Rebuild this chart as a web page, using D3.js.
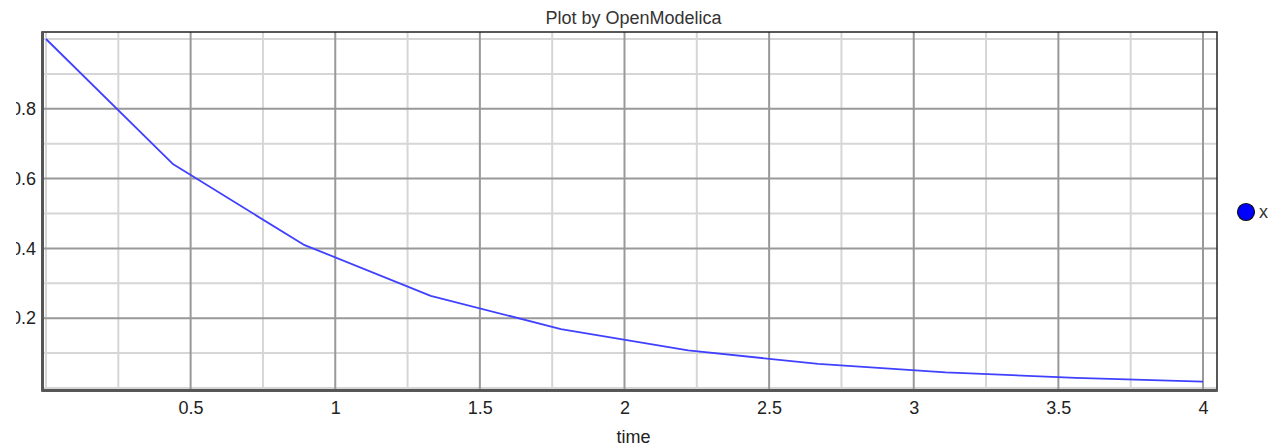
<!DOCTYPE html>
<html>
<head>
<meta charset="utf-8">
<script src="https://cdn.jsdelivr.net/npm/d3@7"></script>
<style>
  body { margin: 0; background: #fff; }
  svg { display: block; font-family: "Liberation Sans", Arial, sans-serif; }
</style>
</head>
<body>
<div id="chart"></div>
<script>
// datos
const timeValues = [0, 0.44, 0.89, 1.33, 1.78, 2.22, 2.67, 3.11, 3.56, 4.0];
const xValues = [1.0, 0.641, 0.411, 0.264, 0.169, 0.108, 0.069, 0.045, 0.029, 0.018];
const xTickLabels = [0.5, 1, 1.5, 2, 2.5, 3, 3.5, 4];
const yTickLabels = [0.2, 0.4, 0.6, 0.8];
const xGrid = d3.range(0, 4.001, 0.25);
const yGrid = d3.range(0, 1.001, 0.1);
const seriesName = 'x';
const titleText = 'Plot by OpenModelica';
const xAxisTitle = 'time';

const W = 1277, H = 448;
const frame = {left: 42, top: 32, right: 1217, bottom: 391};
const fontSize = 18;

const svg = d3.select('#chart').append('svg')
  .attr('width', W).attr('height', H);

const x = d3.scaleLinear().domain([0, 4]).range([46, 1203]);
const y = d3.scaleLinear().domain([0, 1]).range([388, 39]);

// --- rejilla ---
const isMajorX = v => Math.abs(v / 0.5 - Math.round(v / 0.5)) < 1e-6;
const isMajorY = v => Math.abs(v / 0.2 - Math.round(v / 0.2)) < 1e-6;

svg.append('g').selectAll('line')
  .data(xGrid.filter(v => !isMajorX(v) || v === 0))
  .enter().append('line')
  .attr('x1', d => x(d)).attr('x2', d => x(d))
  .attr('y1', frame.top).attr('y2', frame.bottom)
  .attr('stroke', '#d6d6d6').attr('stroke-width', 2);

svg.append('g').selectAll('line')
  .data(yGrid.filter(v => !isMajorY(v) || v === 0 || v > 0.99))
  .enter().append('line')
  .attr('x1', frame.left).attr('x2', frame.right)
  .attr('y1', d => y(d)).attr('y2', d => y(d))
  .attr('stroke', '#d6d6d6').attr('stroke-width', 2);

svg.append('g').selectAll('line')
  .data(xGrid.filter(v => isMajorX(v) && v > 0))
  .enter().append('line')
  .attr('x1', d => x(d)).attr('x2', d => x(d))
  .attr('y1', frame.top).attr('y2', frame.bottom)
  .attr('stroke', '#999').attr('stroke-width', 2);

svg.append('g').selectAll('line')
  .data(yGrid.filter(v => isMajorY(v) && v > 0 && v < 0.99))
  .enter().append('line')
  .attr('x1', frame.left).attr('x2', frame.right)
  .attr('y1', d => y(d)).attr('y2', d => y(d))
  .attr('stroke', '#999').attr('stroke-width', 2);

// --- marco ---
svg.append('rect')
  .attr('x', frame.left).attr('y', frame.top)
  .attr('width', frame.right - frame.left).attr('height', frame.bottom - frame.top)
  .attr('fill', 'none').attr('stroke', '#222').attr('stroke-width', 1.5);
svg.append('line')
  .attr('x1', frame.left + 1).attr('x2', frame.left + 1)
  .attr('y1', frame.top).attr('y2', frame.bottom)
  .attr('stroke', '#555').attr('stroke-width', 2);
svg.append('line')
  .attr('x1', frame.left).attr('x2', frame.right)
  .attr('y1', frame.bottom - 1).attr('y2', frame.bottom - 1)
  .attr('stroke', '#555').attr('stroke-width', 2);

// --- serie ---
const data = timeValues.map((t, i) => ({t, v: xValues[i]}));
svg.append('path')
  .datum(data)
  .attr('fill', 'none')
  .attr('stroke', '#4040ff')
  .attr('stroke-width', 1.8)
  .attr('stroke-linejoin', 'round')
  .attr('d', d3.line().x(d => x(d.t)).y(d => y(d.v)));

// --- ejes ---
const xAxis = svg.append('g')
  .attr('transform', `translate(0,${frame.bottom})`)
  .call(d3.axisBottom(x).tickValues(xTickLabels).tickSize(0).tickPadding(10).tickFormat(d3.format('')));
xAxis.select('.domain').remove();
xAxis.selectAll('text').attr('font-size', fontSize).attr('fill', '#222')
  .attr('font-family', '"Liberation Sans", Arial, sans-serif');

// la imagen original corta el "0" de las etiquetas del eje y
svg.append('clipPath').attr('id', 'yclip')
  .append('rect').attr('x', 16).attr('y', 0).attr('width', 40).attr('height', H);

const yAxis = svg.append('g')
  .attr('clip-path', 'url(#yclip)')
  .append('g')
  .attr('transform', `translate(${frame.left},0)`)
  .call(d3.axisLeft(y).tickValues(yTickLabels).tickSize(0).tickPadding(6).tickFormat(d3.format('.1f')));
yAxis.select('.domain').remove();
yAxis.selectAll('text').attr('font-size', fontSize).attr('fill', '#222')
  .attr('font-family', '"Liberation Sans", Arial, sans-serif');

// --- titulos ---
svg.append('text')
  .attr('x', (frame.left + frame.right) / 2 + 4).attr('y', 24)
  .attr('text-anchor', 'middle')
  .attr('font-size', fontSize).attr('fill', '#333')
  .text(titleText);

svg.append('text')
  .attr('x', (frame.left + frame.right) / 2 + 4).attr('y', 443)
  .attr('text-anchor', 'middle')
  .attr('font-size', fontSize).attr('fill', '#222')
  .text(xAxisTitle);

// --- leyenda ---
const legend = svg.append('g').attr('transform', 'translate(1246,212)');
legend.append('circle')
  .attr('r', 8.5)
  .attr('fill', '#0000ff')
  .attr('stroke', '#111').attr('stroke-width', 1.2);
legend.append('text')
  .attr('x', 13).attr('y', 6)
  .attr('font-size', fontSize).attr('fill', '#333')
  .text(seriesName);
</script>
</body>
</html>
